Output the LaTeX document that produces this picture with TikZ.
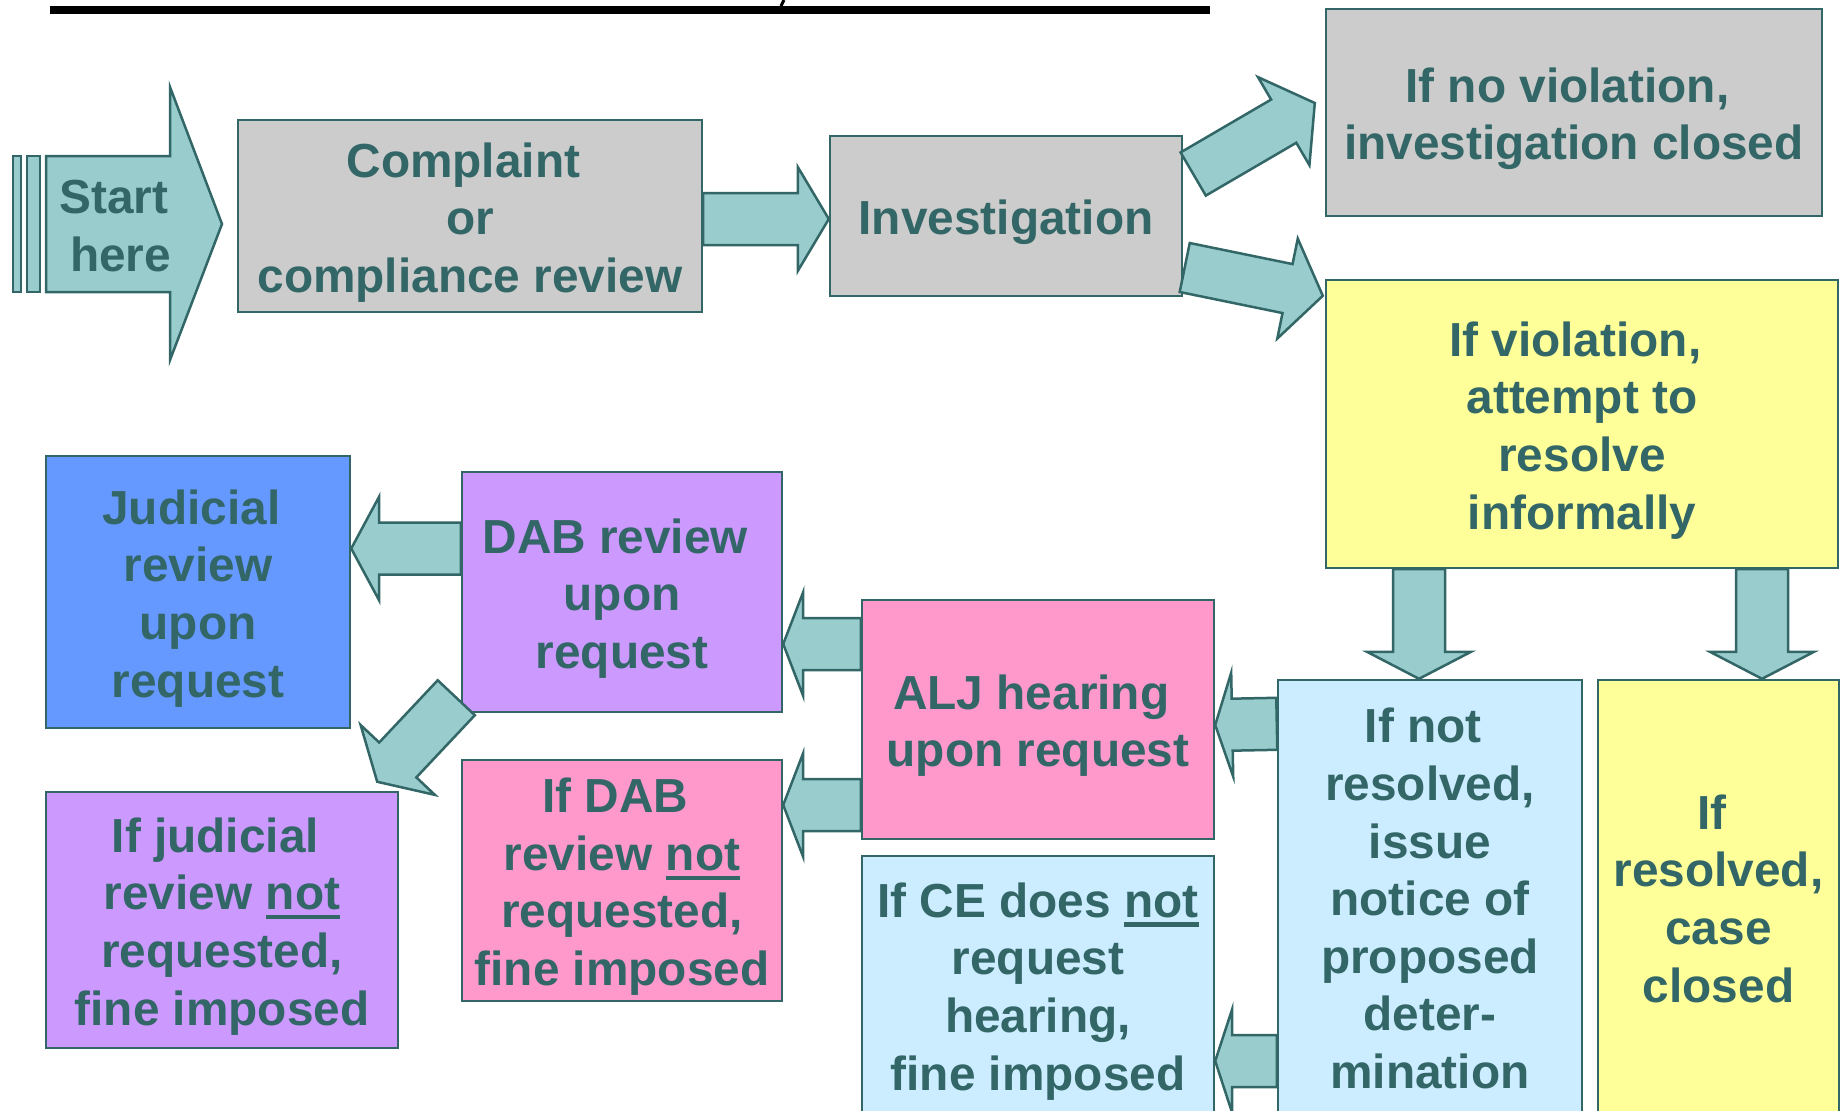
\documentclass[tikz,border=0pt]{standalone}
\usepackage{fontspec}
\setmainfont{Liberation Sans}
\usetikzlibrary{calc,backgrounds}
\definecolor{ink}{HTML}{336666}
\definecolor{flowfill}{HTML}{99CCCC}
\definecolor{greybox}{HTML}{CCCCCC}
\definecolor{yellowbox}{HTML}{FFFF99}
\definecolor{icebox}{HTML}{CCECFF}
\definecolor{pinkbox}{HTML}{FF99CC}
\definecolor{lilacbox}{HTML}{CC99FF}
\definecolor{bluebox}{HTML}{6699FF}
% underlined word, thick rule
\newcommand\notul[1]{\setbox0\hbox{#1}\rlap{\rule[-0.2em]{\wd0}{0.09em}}\box0}
% space left at the end of a wrapped line
\newcommand\tsp{\hspace*{0.28em}}
% strut for the first line
\newcommand\tstrut{\rule{0pt}{26.9pt}}
% block arrow: tail, tip, shaft half width, head half width, head length (px)
\newcommand\barrow[5]{%
  \pgfmathsetlengthmacro\bw{#3*0.02cm}%
  \pgfmathsetlengthmacro\hw{#4*0.02cm}%
  \pgfmathsetlengthmacro\hl{#5*0.02cm}%
  \coordinate (bt) at (#1);
  \coordinate (bh) at (#2);
  \coordinate (bb) at ($(bh)!\hl!(bt)$);
  \draw[flow] ($(bt)!\bw!90:(bh)$) -- ($(bb)!\bw!-90:(bt)$) -- ($(bb)!\hw!-90:(bt)$) -- (bh)
    -- ($(bb)!\hw!90:(bt)$) -- ($(bb)!\bw!90:(bt)$) -- ($(bt)!\bw!-90:(bh)$) -- cycle;
}
\begin{document}
\begin{tikzpicture}[x=0.02cm, y=-0.02cm, line join=miter,
  font=\fontsize{27.2pt}{32.8pt}\selectfont\bfseries,
  txt/.style={text=ink, align=center, inner sep=0pt,
    execute at end node={\rule[-5.7pt]{0pt}{5.7pt}}},
  box/.style={txt, draw=ink, line width=0.05cm},
  flow/.style={draw=ink, line width=0.05cm, fill=flowfill}]
\useasboundingbox (0,0) rectangle (1847,1110);
% title rule
\fill (50,6) rectangle (1210,14);
\draw[line width=0.06cm] (784,0) -- (781,6);
% start arrow
\node[txt] (start) at (120.5,224) {\tstrut Start\tsp\\here};
\begin{scope}[on background layer]
\draw[flow] ($(start.center)+(-74.5,-68)$) -- ($(start.center)+(49.5,-68)$) -- ($(start.center)+(49.5,-137)$)
  -- ($(start.center)+(101.5,0)$) -- ($(start.center)+(49.5,136)$) -- ($(start.center)+(49.5,68)$)
  -- ($(start.center)+(-74.5,68)$) -- cycle;
\draw[flow] ($(start.center)+(-107.5,-68)$) rectangle ($(start.center)+(-99.5,68)$);
\draw[flow] ($(start.center)+(-93.5,-68)$) rectangle ($(start.center)+(-80.5,68)$);
\end{scope}
% boxes
\node[box, fill=greybox, minimum width=9.28cm, minimum height=3.84cm] (complaint) at (470,216) {\tstrut Complaint\tsp\\or\tsp\\compliance review};
\node[box, fill=greybox, minimum width=7.04cm, minimum height=3.2cm] (invest) at (1006,216) {\tstrut Investigation};
\node[box, fill=greybox, minimum width=9.92cm, minimum height=4.14cm] (noviol) at (1574,112.5) {\tstrut If no violation,\tsp\\investigation closed};
\node[box, fill=yellowbox, minimum width=10.24cm, minimum height=5.76cm] (viol) at (1582,424) {\tstrut If violation,\tsp\\attempt to\tsp\\resolve\tsp\\informally};
\node[box, fill=icebox, minimum width=6.08cm, minimum height=8.68cm] (notres) at (1430,897) {\tstrut If not\tsp\\resolved,\\issue\tsp\\notice of\tsp\\proposed\tsp\\deter-\\mination};
\node[box, fill=yellowbox, minimum width=4.82cm, minimum height=8.68cm] (res) at (1718.5,897) {\tstrut If\tsp\\resolved,\\case\tsp\\closed};
\node[box, fill=pinkbox, minimum width=7.04cm, minimum height=4.78cm] (alj) at (1038,719.5) {\tstrut ALJ hearing\tsp\\upon request};
\node[box, fill=icebox, minimum width=7.04cm, minimum height=5.16cm] (ce) at (1038,985) {\tstrut If CE does \notul{not}\\request\tsp\\hearing,\tsp\\fine imposed};
\node[box, fill=lilacbox, minimum width=6.4cm, minimum height=4.8cm] (dab) at (622,592) {\tstrut DAB review\tsp\\upon\tsp\\request};
\node[box, fill=pinkbox, minimum width=6.4cm, minimum height=4.82cm] (ifdab) at (622,880.5) {\tstrut If DAB\tsp\\review \notul{not}\\requested,\tsp\\fine imposed};
\node[box, fill=bluebox, minimum width=6.08cm, minimum height=5.44cm] (judicial) at (198,592) {\tstrut Judicial\tsp\\review\tsp\\upon\tsp\\request};
\node[box, fill=lilacbox, minimum width=7.04cm, minimum height=5.12cm] (ifjud) at (222,920) {\tstrut If judicial\tsp\\review \notul{not}\\requested,\tsp\\fine imposed};
% connectors
\barrow{$(complaint.east)+(0,3)$}{$(invest.west)+(0,3)$}{26}{52}{31}
\barrow{$(invest.east)+(10,-42)$}{$(noviol.west)+(-10,-9.5)$}{25}{51}{36}
\barrow{$(invest.east)+(1.5,51.5)$}{$(viol.north west)+(-2,17)$}{25}{51}{36}
\barrow{$(viol.south -| notres.north)+(-11,0)$}{$(notres.north)+(-11,0)$}{26}{52}{27}
\barrow{$(viol.south -| res.north)+(43.5,0)$}{$(res.north)+(43.5,0)$}{26}{52}{27}
\barrow{$(notres.north west)+(0,45)$}{$(alj.east)+(0,5.5)$}{26}{52}{17}
\barrow{$(notres.west)+(0,164)$}{$(ce.east)+(0,76)$}{26}{52}{17}
\barrow{$(alj.west)+(0,-75.5)$}{$(dab.east)+(0,52)$}{26}{52}{20}
\barrow{$(alj.west)+(0,85.5)$}{$(ifdab.east)+(0,-75.5)$}{26}{52}{20}
\barrow{$(dab.west)+(0,-43.5)$}{$(judicial.east)+(0,-43.5)$}{26}{52}{28}
\barrow{$(dab.south west)+(-4.5,-15.5)$}{$(ifjud.north east)+(-22,-9)$}{25.5}{51}{30}
\end{tikzpicture}
\end{document}
